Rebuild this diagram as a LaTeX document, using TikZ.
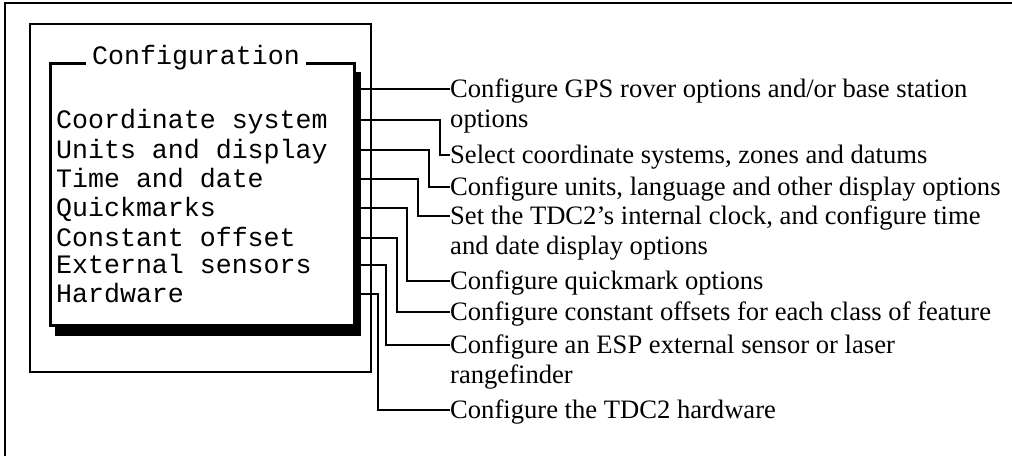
\documentclass[tikz,border=0pt]{standalone}
\usepackage{fontspec}
\setmainfont{Liberation Serif}
\newfontfamily\menufont{Liberation Mono}
\begin{document}
\begin{tikzpicture}[x=1pt,y=-1pt,
  frame/.style={line width=2.5pt},
  screen/.style={line width=1.5pt},
  menubox/.style={draw, line width=3pt, fill=white, inner sep=0pt, anchor=north west},
  shadowbox/.style={fill=black, inner sep=0pt, anchor=north west},
  titlebox/.style={font=\menufont\fontsize{26.6}{30}\selectfont, fill=white, inner xsep=6pt, inner ysep=2pt, anchor=base},
  item/.style={font=\menufont\fontsize{26.6}{30}\selectfont, inner sep=0pt, anchor=west, text height=16pt, text depth=0pt},
  desc/.style={font=\fontsize{26.6}{30}\selectfont, inner sep=0pt, anchor=base west, align=left},
  wire/.style={line width=2pt}]
\useasboundingbox (0,0) rectangle (1012,456);
% outer frame (top and left edges)
\draw[frame] (5,456) -- (5,3) -- (1012,3);
% screen frame
\draw[screen] (30,24) rectangle (371,372);
% menu window with shadow
\node[shadowbox, minimum width=306pt, minimum height=264pt] (sh) at (55,72) {};
\node[menubox, minimum width=304pt, minimum height=262pt] (cfg) at (49,62) {};
\node[titlebox] (title) at (196,64) {Configuration};
% menu items
\node[item] (i1) at (56,120) {Coordinate system};
\node[item] (i2) at (56,150) {Units and display};
\node[item] (i3) at (56,179) {Time and date};
\node[item] (i4) at (56,208) {Quickmarks};
\node[item] (i5) at (56,238) {Constant offset};
\node[item] (i6) at (56,265) {External sensors};
\node[item] (i7) at (56,294) {Hardware};
% descriptions (base = baseline of the last line)
\node[desc] (t0) at (450,127) {Configure GPS rover options and/or base station\\options};
\node[desc] (t1) at (450,163) {Select coordinate systems, zones and datums};
\node[desc] (t2) at (450,195) {Configure units, language and other display options};
\node[desc] (t3) at (450,254) {Set the TDC2’s internal clock, and configure time\\and date display options};
\node[desc] (t4) at (450,289) {Configure quickmark options};
\node[desc] (t5) at (450,320) {Configure constant offsets for each class of feature};
\node[desc] (t6) at (450,383) {Configure an ESP external sensor or laser\\rangefinder};
\node[desc] (t7) at (450,418) {Configure the TDC2 hardware};
% connector end points (first line of each description)
\coordinate (e0) at ([yshift=38pt]t0.base west);
\coordinate (e1) at ([yshift=8pt]t1.base west);
\coordinate (e2) at ([yshift=8pt]t2.base west);
\coordinate (e3) at ([yshift=38pt]t3.base west);
\coordinate (e4) at ([yshift=8pt]t4.base west);
\coordinate (e5) at ([yshift=8pt]t5.base west);
\coordinate (e6) at ([yshift=38pt]t6.base west);
\coordinate (e7) at ([yshift=8pt]t7.base west);
% connectors
\draw[wire] (e0 -| sh.east) -- (e0);
\draw[wire] (i1 -| sh.east) -| ([xshift=-10pt]e1) -- (e1);
\draw[wire] (i2 -| sh.east) -| ([xshift=-21pt]e2) -- (e2);
\draw[wire] (i3 -| sh.east) -| ([xshift=-32pt]e3) -- (e3);
\draw[wire] (i4 -| sh.east) -| ([xshift=-43pt]e4) -- (e4);
\draw[wire] (i5 -| sh.east) -| ([xshift=-53pt]e5) -- (e5);
\draw[wire] (i6 -| sh.east) -| ([xshift=-64pt]e6) -- (e6);
\draw[wire] (i7 -| sh.east) -| ([xshift=-72pt]e7) -- (e7);
\end{tikzpicture}
\end{document}
